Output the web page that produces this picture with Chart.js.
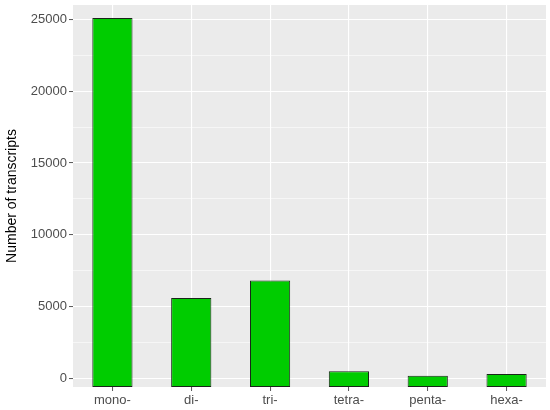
<!DOCTYPE html>
<html>
<head>
<meta charset="utf-8">
<script src="https://cdn.jsdelivr.net/npm/chart.js@4"></script>
<style>
html,body{margin:0;padding:0;background:#fff;}
#wrap{width:550px;height:410px;}
</style>
</head>
<body>
<div id="wrap"><canvas id="c" width="550" height="410"></canvas></div>
<script>
const categories = ["mono-", "di-", "tri-", "tetra-", "penta-", "hexa-"];
const transcripts = [25100, 5600, 6830, 510, 190, 310];
const yTicks = [0, 5000, 10000, 15000, 20000, 25000];
const yMin = -590;
const yMax = 26000;

const panelBg = {
  id: 'panelBg',
  beforeDraw(chart) {
    const {ctx, chartArea: a} = chart;
    ctx.save();
    ctx.fillStyle = '#EBEBEB';
    ctx.fillRect(a.left, a.top, a.right - a.left, a.bottom - a.top);
    ctx.restore();
  }
};

new Chart(document.getElementById('c'), {
  type: 'bar',
  data: {
    labels: categories,
    datasets: [{
      data: transcripts,
      base: yMin,
      backgroundColor: '#00CC00',
      borderColor: '#1a241a',
      borderWidth: 1,
      borderSkipped: false,
      barPercentage: 0.51,
      categoryPercentage: 1.0
    }]
  },
  options: {
    responsive: false,
    animation: false,
    devicePixelRatio: 1,
    layout: { padding: { top: 5, right: 4, left: 0, bottom: 0 } },
    plugins: { legend: { display: false }, tooltip: { enabled: false } },
    scales: {
      x: {
        offset: true,
        grid: {
          offset: false,
          color: '#FFFFFF',
          lineWidth: 1.1,
          drawTicks: true,
          tickLength: 4,
          tickColor: '#555555',
          tickWidth: 1
        },
        border: { display: false },
        ticks: {
          color: '#4D4D4D',
          font: { family: 'Liberation Sans, Arial, sans-serif', size: 13 },
          padding: 2,
          maxRotation: 0
        },
        afterFit(scale) { scale.height = 23; scale.paddingLeft = 0; scale.paddingRight = 0; }
      },
      y: {
        min: yMin,
        max: yMax,
        ticks: {
          stepSize: 2500,
          color: '#4D4D4D',
          font: { family: 'Liberation Sans, Arial, sans-serif', size: 13 },
          padding: 2,
          callback: (v) => yTicks.includes(v) ? String(v) : ''
        },
        afterBuildTicks(scale) {
          const t = [];
          for (let v = 0; v <= yMax; v += 2500) t.push({ value: v });
          scale.ticks = t;
        },
        grid: {
          color: '#FFFFFF',
          lineWidth: (ctx) => (ctx.tick && yTicks.includes(ctx.tick.value)) ? 1.1 : 0.55,
          drawTicks: true,
          tickLength: 4,
          tickColor: (ctx) => (ctx.tick && yTicks.includes(ctx.tick.value)) ? '#555555' : 'rgba(0,0,0,0)',
          tickWidth: 1
        },
        border: { display: false },
        title: {
          display: true,
          text: 'Number of transcripts',
          color: '#000000',
          font: { family: 'Liberation Sans, Arial, sans-serif', size: 14 },
          padding: { top: 4, bottom: 0 }
        },
        afterFit(scale) { scale.width = 73; scale.paddingTop = 0; scale.paddingBottom = 0; }
      }
    }
  },
  plugins: [panelBg]
});
</script>
</body>
</html>
